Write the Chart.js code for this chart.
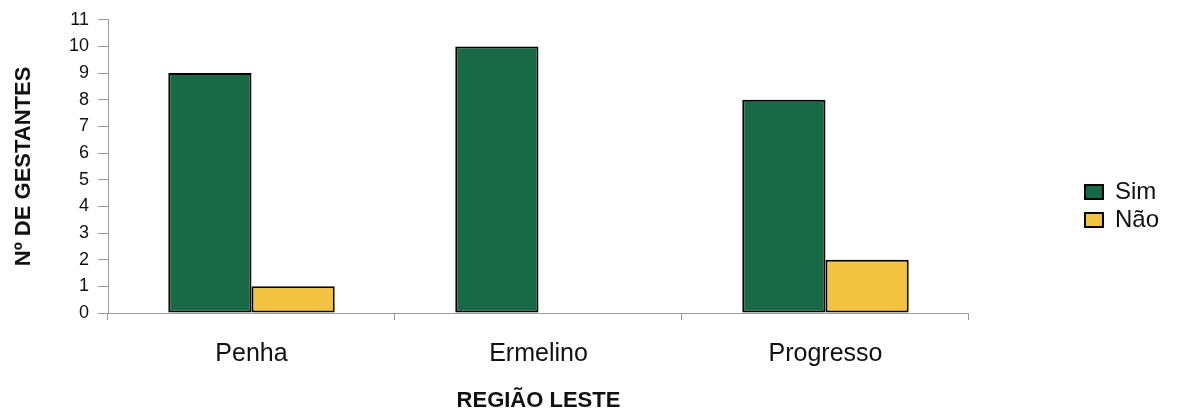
<!DOCTYPE html>
<html>
<head>
<meta charset="utf-8">
<script src="https://cdn.jsdelivr.net/npm/chart.js@4"></script>
<style>
  html, body { margin: 0; padding: 0; background: #fff; }
  #wrap { width: 1191px; height: 412px; }
</style>
</head>
<body>
<div id="wrap"><canvas id="chart"></canvas></div>
<script>
// Gestantes por bairro (Região Leste)
const bairros = ["Penha", "Ermelino", "Progresso"];
const sim = [9, 10, 8];
const nao = [1, 0, 2];
const yMax = 11;

const axisGray = "#999";
const font = "'Liberation Sans', Arial, sans-serif";

const ctx = document.getElementById("chart").getContext("2d");
new Chart(ctx, {
  type: "bar",
  data: {
    labels: bairros,
    datasets: [
      { label: "Sim", data: sim, backgroundColor: "#186a46", borderColor: "#000", borderWidth: 2, borderSkipped: false },
      { label: "Não", data: nao, backgroundColor: "#f1c33e", borderColor: "#000", borderWidth: 2, borderSkipped: false }
    ]
  },
  options: {
    responsive: true,
    maintainAspectRatio: false,
    animation: false,
    datasets: { bar: { categoryPercentage: 0.58, barPercentage: 1.0 } },
    layout: { padding: { top: 10, right: 22, bottom: 10, left: 0 } },
    plugins: {
      tooltip: { enabled: false },
      legend: {
        position: "right",
        labels: {
          boxWidth: 18,
          boxHeight: 14,
          padding: 4,
          color: "#111",
          font: { family: font, size: 24 }
        }
      }
    },
    scales: {
      x: {
        grid: { drawOnChartArea: false, tickLength: 7, color: axisGray },
        border: { color: axisGray },
        ticks: { color: "#111", padding: 19, font: { family: font, size: 25 } },
        title: {
          display: true,
          text: "REGIÃO LESTE",
          color: "#111",
          padding: { top: 2, bottom: -10 },
          font: { family: font, size: 22, weight: "bold", lineHeight: 1 }
        }
      },
      y: {
        min: 0,
        max: yMax,
        grid: { drawOnChartArea: false, tickLength: 10, color: axisGray },
        border: { color: axisGray },
        ticks: { stepSize: 1, autoSkip: false, color: "#111", padding: 9, font: { family: font, size: 18 } },
        title: {
          display: true,
          text: "Nº DE GESTANTES",
          color: "#111",
          padding: { top: 13, bottom: 0 },
          font: { family: font, size: 22, weight: "bold", lineHeight: 1 }
        },
        afterFit: s => { s.width = 108; }
      },
      // empty axis that only keeps the gap between plot and legend
      gap: {
        position: "right",
        min: 0,
        max: 1,
        grid: { display: false },
        border: { display: false },
        ticks: { display: false },
        afterFit: s => { s.width = 112; }
      }
    }
  }
});
</script>
</body>
</html>
